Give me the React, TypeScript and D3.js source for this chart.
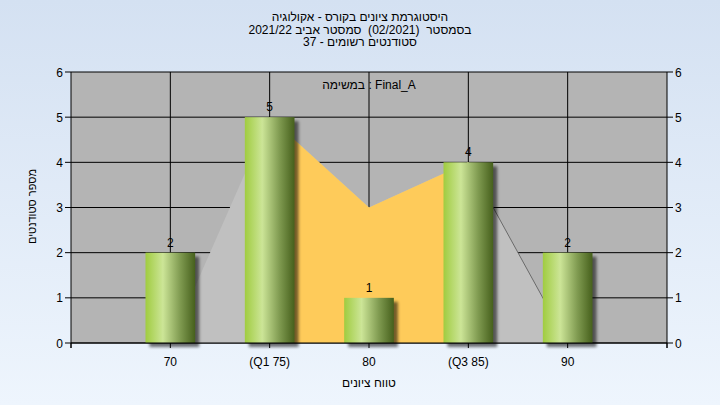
import React from "react";
import * as d3 from "d3";

const titleLines = [
  "היסטוגרמת ציונים בקורס - אקולוגיה",
  "בסמסטר  (02/2021)  סמסטר אביב 2021/22",
  "סטודנטים רשומים - 37",
];
const categories = ["70", "(Q1 75)", "80", "(Q3 85)", "90"];
const grades = [70, 75, 80, 85, 90];
const counts = [2, 5, 1, 4, 2];
const curveValues = [0, 5, 3, 4, 0];
const quartileRange = [75, 85];
const yTicks = [0, 1, 2, 3, 4, 5, 6];
const xTickPositions = [65, 70, 75, 80, 85, 90, 95];
const yAxisTitle = "מספר סטודנטים";
const xAxisTitle = "טווח ציונים";
const seriesLabel = "במשימה : Final_A";

const W = 720;
const H = 405;
const FONT = "'Liberation Sans', Arial, 'DejaVu Sans', sans-serif";

export default function App() {
  const x = d3.scaleLinear().domain([65, 95]).range([71, 667]);
  const y = d3.scaleLinear().domain([0, 6]).range([343, 72]);
  const barW = (x(75) - x(70)) * 0.5;

  const pts = grades.map((g, i) => ({ g, v: curveValues[i] }));
  const area = d3
    .area<{ g: number; v: number }>()
    .x((d) => x(d.g))
    .y0(y(0))
    .y1((d) => y(d.v));
  const line = d3
    .line<{ g: number; v: number }>()
    .x((d) => x(d.g))
    .y((d) => y(d.v));
  const mid = pts.filter((d) => d.g >= quartileRange[0] && d.g <= quartileRange[1]);
  const tail = pts.filter((d) => d.g >= quartileRange[1]);

  const [x0, x1] = x.range();
  const [yb, yt] = y.range();

  return (
    <svg
      width={W}
      height={H}
      style={{ position: "absolute", left: 0, top: 0, display: "block" }}
      fontFamily={FONT}
    >
      <defs>
        <linearGradient id="bg" x1="0" y1="0" x2="0" y2="1">
          <stop offset="0" stopColor="#d4e1f2" />
          <stop offset="1" stopColor="#eef5fd" />
        </linearGradient>
        <linearGradient id="bar" x1="0" y1="0" x2="1" y2="0">
          <stop offset="0" stopColor="#a0cc40" />
          <stop offset="0.35" stopColor="#cce597" />
          <stop offset="0.7" stopColor="#7f9a50" />
          <stop offset="1" stopColor="#46601c" />
        </linearGradient>
        <filter id="shadow" x="-20%" y="-20%" width="150%" height="150%">
          <feGaussianBlur stdDeviation="1.5" />
        </filter>
      </defs>
      <rect x={0} y={0} width={W} height={H} fill="url(#bg)" />

      {titleLines.map((t, i) => (
        <text
          key={i}
          x={360}
          y={21 + i * 12.6}
          textAnchor="middle"
          direction="rtl"
          fontSize={12}
          fill="#000"
          style={{ whiteSpace: "pre" }}
        >
          {t}
        </text>
      ))}

      <rect x={x0} y={yt} width={x1 - x0} height={yb - yt} fill="#b4b4b4" />

      {yTicks.map((t) => (
        <line key={"h" + t} x1={x0} x2={x1} y1={y(t)} y2={y(t)} stroke="#000" strokeWidth={1} />
      ))}
      {grades.map((g) => (
        <line key={"v" + g} x1={x(g)} x2={x(g)} y1={yt} y2={yb} stroke="#000" strokeWidth={1} />
      ))}

      <path d={area(pts) || ""} fill="#c0c0c0" />
      <path d={area(mid) || ""} fill="#fecb5a" />
      <path d={line(tail) || ""} fill="none" stroke="#6a6a6a" strokeWidth={1} />

      {grades.map((g, i) => (
        <rect
          key={"s" + g}
          x={x(g) - barW / 2 + 4}
          y={y(counts[i]) + 4}
          width={barW}
          height={yb - y(counts[i])}
          fill="#000"
          opacity={0.55}
          filter="url(#shadow)"
        />
      ))}
      {grades.map((g, i) => (
        <rect
          key={"b" + g}
          x={x(g) - barW / 2}
          y={y(counts[i])}
          width={barW}
          height={yb - y(counts[i])}
          fill="url(#bar)"
        />
      ))}
      {grades.map((g, i) => (
        <text
          key={"l" + g}
          x={x(g)}
          y={y(counts[i]) - 6}
          textAnchor="middle"
          fontSize={12}
          fill="#000"
        >
          {counts[i]}
        </text>
      ))}

      <line x1={x0} x2={x0} y1={yt} y2={yb + 5} stroke="#000" />
      <line x1={x1} x2={x1} y1={yt} y2={yb + 5} stroke="#000" />
      <line x1={x0} x2={x1} y1={yb} y2={yb} stroke="#000" />

      {yTicks.map((t) => (
        <g key={"yt" + t}>
          <line x1={x0 - 6} x2={x0} y1={y(t)} y2={y(t)} stroke="#000" />
          <line x1={x1} x2={x1 + 6} y1={y(t)} y2={y(t)} stroke="#000" />
          <text x={x0 - 8} y={y(t) + 4.5} textAnchor="end" fontSize={12} fill="#000">
            {t}
          </text>
          <text x={x1 + 8} y={y(t) + 4.5} textAnchor="start" fontSize={12} fill="#000">
            {t}
          </text>
        </g>
      ))}
      {xTickPositions.map((g) => (
        <line key={"xt" + g} x1={x(g)} x2={x(g)} y1={yb} y2={yb + 5} stroke="#000" />
      ))}
      {grades.map((g, i) => (
        <text key={"xl" + g} x={x(g)} y={yb + 23} textAnchor="middle" fontSize={12} fill="#000">
          {categories[i]}
        </text>
      ))}

      <text x={369} y={387} textAnchor="middle" direction="rtl" fontSize={12} fill="#000">
        {xAxisTitle}
      </text>
      <text
        transform={`translate(36, ${(yt + yb) / 2 - 1}) rotate(-90)`}
        textAnchor="middle"
        direction="rtl"
        fontSize={11}
        fill="#000"
      >
        {yAxisTitle}
      </text>

      <text x={369} y={89} textAnchor="middle" fontSize={12} fill="#000">
        {seriesLabel}
      </text>
    </svg>
  );
}
